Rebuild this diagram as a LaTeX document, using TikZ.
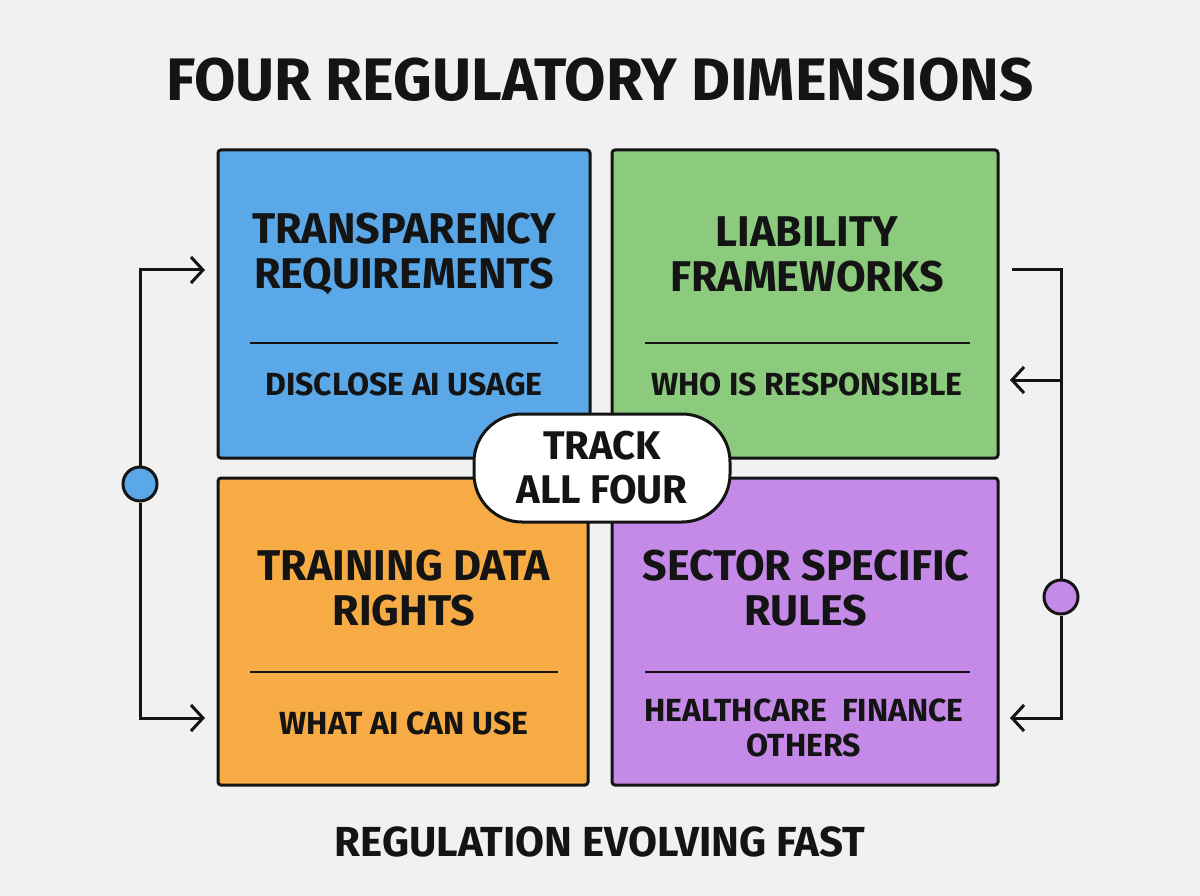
\documentclass[tikz,border=0pt]{standalone}
\usepackage{fontspec}
\setmainfont{Fira Sans}
\usetikzlibrary{arrows.meta,calc}
\definecolor{bg}{HTML}{F1F1F1}
\definecolor{cblue}{HTML}{5BA8E8}
\definecolor{cgreen}{HTML}{8CCB7E}
\definecolor{corange}{HTML}{F6AB45}
\definecolor{cpurple}{HTML}{C58AE8}
\definecolor{ink}{HTML}{141414}
\tikzset{
  card/.style={draw=ink,line width=3pt,rounded corners=3pt,inner sep=0pt},
  ttl/.style={font=\bfseries\fontsize{43}{45}\selectfont,text=ink,align=center,inner sep=0pt},
  sub/.style={font=\bfseries\fontsize{32}{35}\selectfont,text=ink,align=center,inner sep=0pt},
  divider/.style={draw=ink,line width=2.5pt},
  wire/.style={draw=ink,line width=3pt},
  arr/.style={wire,-{Straight Barb[length=12pt,width=26pt,line width=3pt]}},
  dot/.style={circle,draw=ink,line width=3pt,minimum size=34pt,inner sep=0pt},
}
\begin{document}
\begin{tikzpicture}[x=1pt,y=-1pt]
\fill[bg] (0,0) rectangle (1200,896);
\useasboundingbox (0,0) rectangle (1200,896);
% title
\node[font=\bfseries\fontsize{60}{66}\selectfont,text=ink,inner sep=0pt] (title) at (600,80) {FOUR REGULATORY DIMENSIONS};
% cards
\node[card,fill=cblue,minimum width=372pt,minimum height=308pt] (tl) at (404,304) {};
\node[card,fill=cgreen,minimum width=386pt,minimum height=308pt] (tr) at (805,304) {};
\node[card,fill=corange,minimum width=370pt,minimum height=307pt] (bl) at (403,631.5) {};
\node[card,fill=cpurple,minimum width=386pt,minimum height=307pt] (br) at (805,631.5) {};
% card texts
\node[ttl] (tlt) at (404,254) {TRANSPARENCY\\REQUIREMENTS};
\node[ttl] (trt) at (807,254) {LIABILITY\\FRAMEWORKS};
\node[ttl] (blt) at (404,588) {TRAINING DATA\\RIGHTS};
\node[ttl] (brt) at (806,588) {SECTOR SPECIFIC\\RULES};
\draw[divider] (250,343) -- (558,343);
\draw[divider] (645,343) -- (970,343);
\draw[divider] (250,672) -- (558,672);
\draw[divider] (645,672) -- (970,672);
\node[sub] (tls) at (404,384) {DISCLOSE AI USAGE};
\node[sub] (trs) at (807,384) {WHO IS RESPONSIBLE};
\node[sub] (bls) at (404,723) {WHAT AI CAN USE};
\node[sub] (brs) at (804,728) {HEALTHCARE\ \ FINANCE\\OTHERS};
% center pill
\node[draw=ink,fill=white,line width=3pt,rounded corners=48pt,minimum width=256pt,minimum height=108pt,inner sep=0pt,
  font=\bfseries\fontsize{40}{44}\selectfont,text=ink,align=center] (hub) at (602,468) {TRACK\\ALL FOUR};
% left connector
\node[dot,fill=cblue] (lc) at (140,484) {};
\coordinate (la) at (205,270);
\coordinate (lb) at (205,718);
\draw[arr] (lc) |- (la);
\draw[arr] (lc) |- (lb);
% right connector
\node[dot,fill=cpurple] (rc) at (1061,597) {};
\coordinate (rs) at (1012,270);
\coordinate (rj) at (1061,380);
\coordinate (rm) at (1010,380);
\coordinate (rb) at (1010,718);
\draw[wire] (rs) -| (rc);
\draw[arr] (rj) -- (rm);
\draw[arr] (rc) |- (rb);
% footer
\node[font=\bfseries\fontsize{42}{46}\selectfont,text=ink,inner sep=0pt] (foot) at (600,842) {REGULATION EVOLVING FAST};
\end{tikzpicture}
\end{document}
